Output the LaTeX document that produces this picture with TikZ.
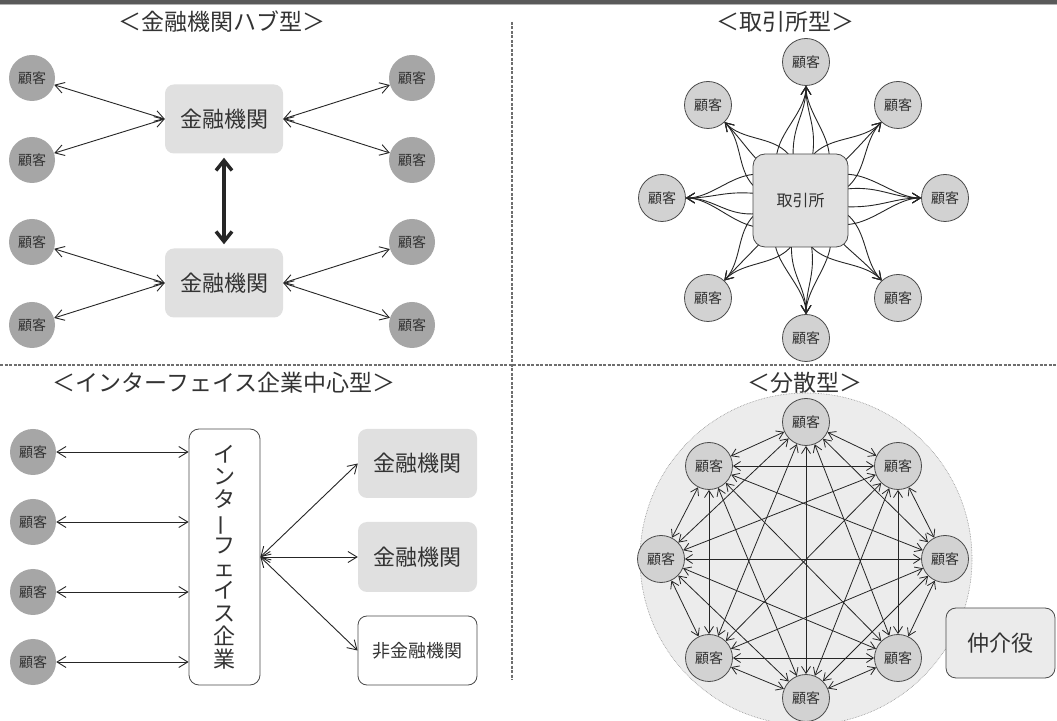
\documentclass[tikz,border=0pt]{standalone}
\usepackage{fontspec}
\setmainfont{Noto Sans CJK JP}
\usetikzlibrary{arrows.meta,calc}
\definecolor{txt}{HTML}{333333}
\definecolor{cdark}{HTML}{A6A6A6}
\definecolor{clight}{HTML}{D2D2D2}
\definecolor{boxg}{HTML}{E0E0E0}
\definecolor{edgec}{HTML}{4A4A4A}
\definecolor{bigc}{HTML}{ECECEC}
\definecolor{divc}{HTML}{6E6E6E}
\definecolor{barc}{HTML}{5A5A5A}
\definecolor{linec}{HTML}{262626}
\tikzset{
  cust/.style={circle, minimum size=46pt, inner sep=0pt, font=\fontsize{14}{14}\selectfont, text=txt},
  custA/.style={cust, fill=cdark},
  custB/.style={cust, fill=clight, draw=edgec, line width=0.8pt, minimum size=47pt},
  bank/.style={rounded corners=9pt, fill=boxg, minimum width=118pt, minimum height=69pt, inner sep=0pt, font=\fontsize{22}{22}\selectfont, text=txt},
  ttl/.style={font=\fontsize{23}{23}\selectfont, text=txt},
  ln/.style={draw=linec, line width=0.9pt},
  dbl/.style={ln, {Straight Barb[length=9pt,width=11pt]}-{Straight Barb[length=9pt,width=11pt]}},
  dblsmall/.style={ln, line width=0.8pt, {Straight Barb[length=7pt,width=9pt]}-{Straight Barb[length=7pt,width=9pt]}},
  exar/.style={ln, -{Straight Barb[length=8pt,width=10pt]}},
  divider/.style={draw=divc, line width=2pt, dash pattern=on 3pt off 1.5pt},
}
\begin{document}
\begin{tikzpicture}[x=1pt,y=1pt]
\useasboundingbox (0,0) rectangle (1057,720);
\fill[white] (0,0) rectangle (1057,720);
% top bar
\fill[barc] (0,716) rectangle (1057,720);
\fill[black!30] (0,715) rectangle (1057,716);
% dividers
\draw[divider] (0,355) -- (1057,355);
\draw[divider] (512,698) -- (512,40);

% ================= top-left =================
\node[ttl] (t1) at (222,698) {＜金融機関ハブ型＞};
\node[bank] (b1) at (224,601) {金融機関};
\node[bank] (b2) at (224,437) {金融機関};
\node[custA] (a1) at (32,642) {顧客};
\node[custA] (a2) at (32,560) {顧客};
\node[custA] (a3) at (32,478) {顧客};
\node[custA] (a4) at (32,395) {顧客};
\node[custA] (a5) at (412,642) {顧客};
\node[custA] (a6) at (412,560) {顧客};
\node[custA] (a7) at (412,478) {顧客};
\node[custA] (a8) at (412,395) {顧客};
\draw[dbl] (a1) -- (b1.west);
\draw[dbl] (a2) -- (b1.west);
\draw[dbl] (a3) -- (b2.west);
\draw[dbl] (a4) -- (b2.west);
\draw[dbl] (a5) -- (b1.east);
\draw[dbl] (a6) -- (b1.east);
\draw[dbl] (a7) -- (b2.east);
\draw[dbl] (a8) -- (b2.east);
\draw[draw=linec, line width=3.5pt, {Straight Barb[length=10pt,width=16pt]}-{Straight Barb[length=10pt,width=16pt]}, shorten >=4pt, shorten <=4pt] (b1.south) -- (b2.north);

% ================= top-right =================
\node[ttl] (t2) at (785,698) {＜取引所型＞};
\coordinate (exc) at (800.5,519.5);
\node[custB] (xT) at (806,658) {顧客};
\node[custB] (xUL) at (708,615) {顧客};
\node[custB] (xUR) at (898,615) {顧客};
\node[custB] (xL) at (662,522) {顧客};
\node[custB] (xR) at (945,522) {顧客};
\node[custB] (xLL) at (708,422) {顧客};
\node[custB] (xLR) at (898,422) {顧客};
\node[custB] (xB) at (806,382) {顧客};
\foreach \t/\ph/\ds in {xT/90/{-55,-20,15,50}, xB/-90/{-55,-18,18,60}, xL/180/{-50,-12,25,55}, xR/0/{-48,-12,20,50}, xUL/134/{-45,5,45}, xUR/46/{-45,-5,45}, xLL/-133/{-45,0,48}, xLR/-47/{-48,0,45}}{
  \pgfmathtruncatemacro\ia{\ph+180}
  \foreach \d in \ds {
    \pgfmathsetmacro\oa{\ph+\d}
    \draw[exar] (exc) to[out=\oa, in=\ia, out distance=75pt, in distance=38pt] (\t.\ia);
  }
}
\node[rounded corners=12pt, fill=boxg, draw=edgec, line width=0.8pt, minimum width=95pt, minimum height=93pt, inner sep=0pt, font=\fontsize{16}{16}\selectfont, text=txt] (ex) at (exc) {取引所};

% ================= bottom-left =================
\node[ttl] (t3) at (224,337) {＜インターフェイス企業中心型＞};
\node[draw=edgec, line width=0.8pt, rounded corners=10pt, fill=white, minimum width=71pt, minimum height=256pt, inner sep=0pt, align=center, font=\fontsize{22}{22.8}\selectfont, text=txt] (ib) at (224.5,163) {イ\\ン\\タ\\\rotatebox[origin=c]{90}{ー}\\フ\\ェ\\イ\\ス\\企\\業};
\node[custA] (c1) at (33,268) {顧客};
\node[custA] (c2) at (33,198) {顧客};
\node[custA] (c3) at (33,128) {顧客};
\node[custA] (c4) at (33,58) {顧客};
\foreach \c in {c1,c2,c3,c4}{
  \draw[dbl] (\c.east) -- (\c.east -| ib.west);
}
\node[bank, minimum width=119pt] (f1) at (417.5,256.5) {金融機関};
\node[bank, minimum width=119pt, minimum height=70pt] (f2) at (417.5,163) {金融機関};
\node[bank, fill=white, draw=edgec, line width=0.8pt, minimum width=119pt, font=\fontsize{18}{18}\selectfont] (f3) at (417.5,69.5) {非金融機関};
\draw[dbl] (ib.east) -- (f1.west);
\draw[dbl] (ib.east) -- (f2.west);
\draw[dbl] (ib.east) -- (f3.west);

% ================= bottom-right =================
\node[ttl] (t4) at (805,337) {＜分散型＞};
\node[circle, fill=bigc, draw=black!45, line width=0.6pt, densely dotted, minimum size=332pt, inner sep=0pt] (big) at (806,161) {};
\node[custB] (d1) at (806,298) {顧客};
\node[custB] (d2) at (898,254) {顧客};
\node[custB] (d3) at (945,161) {顧客};
\node[custB] (d4) at (898,62) {顧客};
\node[custB] (d5) at (806,22) {顧客};
\node[custB] (d6) at (709,62) {顧客};
\node[custB] (d7) at (661,161) {顧客};
\node[custB] (d8) at (709,254) {顧客};
\foreach \i in {1,...,7}{
  \pgfmathtruncatemacro\s{\i+1}
  \foreach \j in {\s,...,8}{
    \draw[dblsmall] (d\i) -- (d\j);
  }
}
\node[rounded corners=10pt, fill=black!8, draw=edgec, line width=0.8pt, minimum width=109pt, minimum height=70pt, inner sep=0pt, font=\fontsize{22}{22}\selectfont, text=txt] (med) at (1000.5,77) {仲介役};
\end{tikzpicture}
\end{document}
